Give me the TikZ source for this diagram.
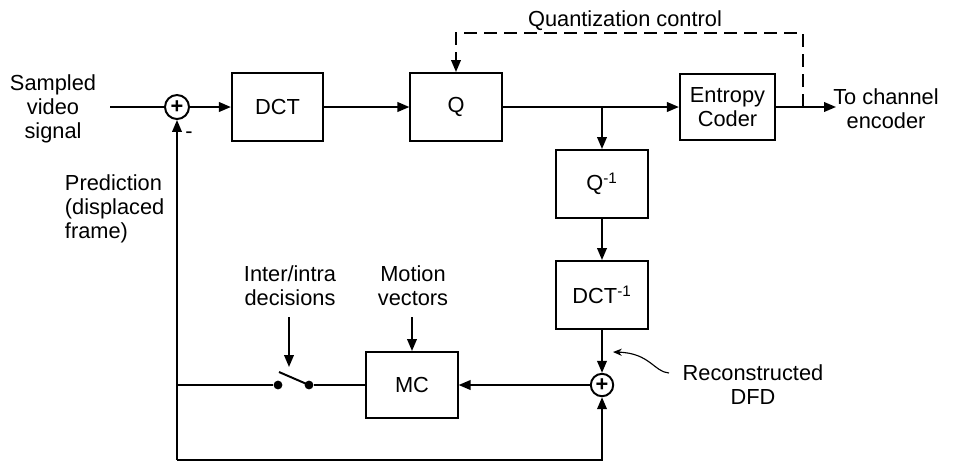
\documentclass[tikz,border=0pt]{standalone}
\usepackage{fontspec}
\setmainfont{Liberation Sans}
\usetikzlibrary{arrows.meta}

\begin{document}
\begin{tikzpicture}[
    x=0.025cm, y=-0.025cm,
    font=\fontsize{15.5}{17}\selectfont, line width=1.4pt,
    >={Triangle[length=3mm, width=2.4mm]},
    bloque/.style={draw, rectangle, minimum width=2.28cm, minimum height=1.7cm, align=center},
    sumador/.style={draw, circle, inner sep=0pt, minimum size=0.6cm, font=\fontsize{15.5}{17}\selectfont\bfseries},
    contacto/.style={circle, fill=black, inner sep=0pt, minimum size=0.22cm},
    etiqueta/.style={align=center, inner sep=0pt}
  ]
    \useasboundingbox (0,0) rectangle (958,463);

    % --- LAZO DIRECTO (DCT, Q, codificador) ---
    \node[sumador] (sum1) at (177,107) {+};
    \node[bloque] (dct) at (277.5,107) {DCT};
    \node[bloque] (q) at (456,107) {Q};
    \node[bloque, minimum width=2.38cm, minimum height=1.65cm] (ent) at (727.5,107) {Entropy\\Coder};

    % --- LAZO DE RECONSTRUCCION ---
    \node[bloque] (qinv) at (602,184) {Q\textsuperscript{-1}};
    \node[bloque] (dctinv) at (602,295) {DCT\textsuperscript{-1}};
    \node[sumador, minimum size=0.56cm] (sum2) at (602,385) {+};
    \node[bloque, minimum height=1.65cm] (mc) at (412,385) {MC};

    % Llave inter/intra
    \node[contacto] (swL) at (278,385) {};
    \node[contacto] (swR) at (309,385) {};
    \coordinate (swT) at (279,372);

    % --- ETIQUETAS ---
    \node[etiqueta] (entrada) at (53,109) {Sampled\\video\\signal};
    \node[etiqueta] (salida) at (886,109) {To channel\\encoder};
    \node[etiqueta] (qctl) at (625,21) {Quantization control};
    \node[etiqueta, align=left, anchor=west] (pred) at (64,209) {Prediction\\(displaced\\frame)};
    \node[etiqueta] (interintra) at (290,286) {Inter/intra\\decisions};
    \node[etiqueta] (movvec) at (413,286) {Motion\\vectors};
    \node[etiqueta] (dfd) at (753,385) {Reconstructed\\DFD};
    \node[etiqueta] (menos) at (189,135) {-};

    % --- PUNTOS AUXILIARES ---
    \coordinate (ini) at (110,107);
    \coordinate (fin) at (836,107);
    \coordinate (rama) at (qinv.north |- q.east);
    \coordinate (tap) at (803,107);
    \coordinate (qcEsq) at (803,33);
    \coordinate (esqInf) at (177,460);
    \coordinate (iiA) at (289,317);
    \coordinate (iiB) at (289,367);
    \coordinate (mvA) at (412,317);
    \coordinate (dfdA) at (669,373);
    \coordinate (dfdB) at (613,352);

    % --- CONEXIONES ---
    \draw (ini) -- (sum1);
    \draw[->] (sum1) -- (dct);
    \draw[->] (dct) -- (q);
    \draw[->] (q) -- (ent);
    \draw[->] (ent) -- (fin);
    \draw[->] (rama) -- (qinv);
    \draw[->] (qinv) -- (dctinv);
    \draw[->] (dctinv) -- (sum2);
    \draw[->] (sum2) -- (mc);
    \draw (mc) -- (swR);
    \draw (swR.center) -- (swT);
    \draw (swL) -- (swL -| esqInf);
    \draw[->] (esqInf) -- (sum1);
    \draw[->] (esqInf) -| (sum2);
    \draw[->] (iiA) -- (iiB);
    \draw[->] (mvA) -- (mc);

    % control de cuantizacion (punteado)
    \draw[->, dash pattern=on 3.2mm off 1.8mm] (tap) -- (qcEsq) -| (q.north);

    % flecha de la DFD reconstruida
    \draw[-{Stealth[length=2.2mm, width=1.8mm]}, line width=0.8pt]
        (dfdA) .. controls (654,372) and (650,353) .. (dfdB);

\end{tikzpicture}
\end{document}
